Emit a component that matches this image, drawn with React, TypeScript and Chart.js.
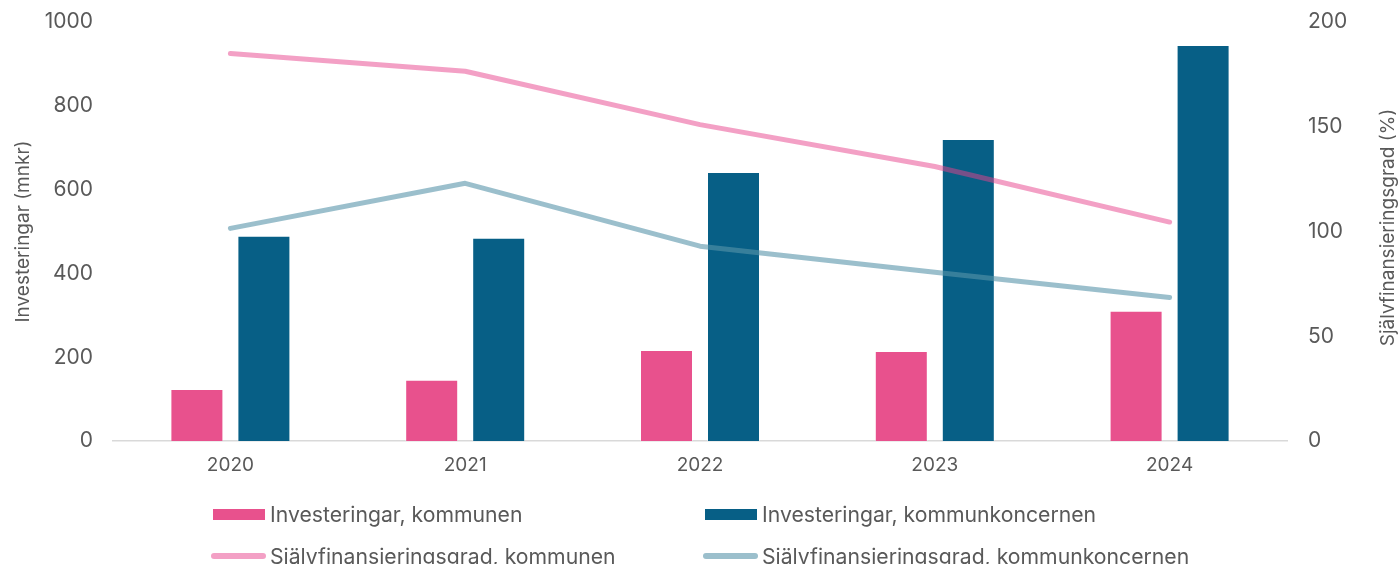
import React, { useEffect, useRef } from "react";
import { Chart, registerables } from "chart.js";

Chart.register(...registerables);

const categories = ["2020", "2021", "2022", "2023", "2024"];
const invKommunen = [124, 146, 217, 215, 311];
const invKoncernen = [490, 485, 642, 721, 945];
const sfgKommunen = [185, 176.5, 151, 131, 104.5];
const sfgKoncernen = [101.5, 123, 93, 80.5, 68.5];

const leftTitle = "Investeringar (mnkr)";
const rightTitle = "Självfinansieringsgrad (%)";
const seriesNames = [
  "Investeringar, kommunen",
  "Investeringar, kommunkoncernen",
  "Självfinansieringsgrad, kommunen",
  "Självfinansieringsgrad, kommunkoncernen",
];

const FONT = "Inter";
const TEXT = "#595959";
const PINK = "#E8518D";
const BLUE = "#075F86";
const PINK_LINE = "rgba(232,65,140,0.5)";
const BLUE_LINE = "rgba(88,148,170,0.6)";

const titlePlugin = {
  id: "axisTitles",
  afterDraw(chart: any) {
    const { ctx, chartArea } = chart;
    const cy = (chartArea.top + chartArea.bottom) / 2;
    ctx.save();
    ctx.font = `19px ${FONT}`;
    ctx.fillStyle = TEXT;
    ctx.textAlign = "center";
    ctx.textBaseline = "middle";
    ctx.save();
    ctx.translate(23, cy);
    ctx.rotate(-Math.PI / 2);
    ctx.fillText(leftTitle, 0, 0);
    ctx.restore();
    ctx.save();
    ctx.translate(1388, cy - 4);
    ctx.rotate(-Math.PI / 2);
    ctx.fillText(rightTitle, 0, 0);
    ctx.restore();
    ctx.restore();
  },
};

const plainTick = (v: any) => String(v);

export default function App() {
  const ref = useRef<HTMLCanvasElement | null>(null);

  useEffect(() => {
    if (!ref.current) return;
    const chart = new Chart(ref.current, {
      type: "bar",
      data: {
        labels: categories,
        datasets: [
          {
            type: "line",
            label: seriesNames[2],
            data: sfgKommunen,
            yAxisID: "y1",
            borderColor: PINK_LINE,
            backgroundColor: PINK_LINE,
            borderWidth: 5,
            borderCapStyle: "round",
            borderJoinStyle: "round",
            pointRadius: 0,
            tension: 0,
            order: 0,
          } as any,
          {
            type: "line",
            label: seriesNames[3],
            data: sfgKoncernen,
            yAxisID: "y1",
            borderColor: BLUE_LINE,
            backgroundColor: BLUE_LINE,
            borderWidth: 5,
            borderCapStyle: "round",
            borderJoinStyle: "round",
            pointRadius: 0,
            tension: 0,
            order: 0,
          } as any,
          {
            type: "bar",
            label: seriesNames[0],
            data: invKommunen,
            yAxisID: "y",
            backgroundColor: PINK,
            borderColor: "rgba(255,255,255,0.35)",
            borderWidth: 1,
            categoryPercentage: 0.5707,
            barPercentage: 0.791,
            order: 1,
          } as any,
          {
            type: "bar",
            label: seriesNames[1],
            data: invKoncernen,
            yAxisID: "y",
            backgroundColor: BLUE,
            borderColor: "rgba(255,255,255,0.35)",
            borderWidth: 1,
            categoryPercentage: 0.5707,
            barPercentage: 0.791,
            order: 1,
          } as any,
        ],
      },
      options: {
        animation: false,
        responsive: false,
        maintainAspectRatio: false,
        layout: { padding: { top: 22, bottom: 83, left: 0, right: 0 } },
        plugins: {
          legend: { display: false },
          tooltip: { enabled: false },
        },
        scales: {
          x: {
            grid: { display: false, drawTicks: false },
            border: { display: true, color: "#D9D9D9", width: 1.5 },
            ticks: {
              font: { family: FONT, size: 19 },
              color: TEXT,
              padding: 13,
            },
            afterFit(scale: any) {
              scale.height = 40;
            },
          },
          y: {
            position: "left",
            min: 0,
            max: 1000,
            grid: { display: false, drawTicks: false },
            border: { display: false },
            ticks: {
              stepSize: 200,
              font: { family: FONT, size: 21 },
              color: TEXT,
              padding: 20,
              callback: plainTick,
            },
            afterFit(scale: any) {
              scale.width = 113;
              scale.paddingTop = 0;
              scale.paddingBottom = 0;
            },
          },
          y1: {
            position: "right",
            min: 0,
            max: 200,
            grid: { display: false, drawTicks: false },
            border: { display: false },
            ticks: {
              stepSize: 50,
              font: { family: FONT, size: 21 },
              color: TEXT,
              padding: 21,
              callback: plainTick,
            },
            afterFit(scale: any) {
              scale.width = 111;
              scale.paddingTop = 0;
              scale.paddingBottom = 0;
            },
          },
        },
      },
      plugins: [titlePlugin],
    } as any);
    return () => chart.destroy();
  }, []);

  const legendText: React.CSSProperties = {
    position: "absolute",
    fontFamily: FONT,
    fontSize: 21.2,
    color: TEXT,
    lineHeight: "24px",
    whiteSpace: "nowrap",
  };

  const items = [
    { x: 213, y: 514, kind: "box", color: PINK, text: seriesNames[0] },
    { x: 705, y: 514, kind: "box", color: BLUE, text: seriesNames[1] },
    { x: 211, y: 556, kind: "line", color: PINK_LINE, text: seriesNames[2] },
    { x: 703, y: 556, kind: "line", color: BLUE_LINE, text: seriesNames[3] },
  ];

  return (
    <div
      style={{
        position: "fixed",
        left: 0,
        top: 0,
        width: 1398,
        height: 564,
        overflow: "hidden",
        background: "#fff",
      }}
    >
      <canvas ref={ref} width={1398} height={564} style={{ display: "block" }} />
      {items.map((it, i) => (
        <React.Fragment key={i}>
          {it.kind === "box" ? (
            <div
              style={{
                position: "absolute",
                left: it.x,
                top: it.y - 5.5,
                width: 52,
                height: 11,
                background: it.color,
              }}
            />
          ) : (
            <div
              style={{
                position: "absolute",
                left: it.x,
                top: it.y - 3,
                width: 55,
                height: 6,
                borderRadius: 3,
                background: it.color,
              }}
            />
          )}
          <div style={{ ...legendText, left: it.x + (it.kind === "box" ? 57 : 59), top: it.y - 12 }}>
            {it.text}
          </div>
        </React.Fragment>
      ))}
    </div>
  );
}
